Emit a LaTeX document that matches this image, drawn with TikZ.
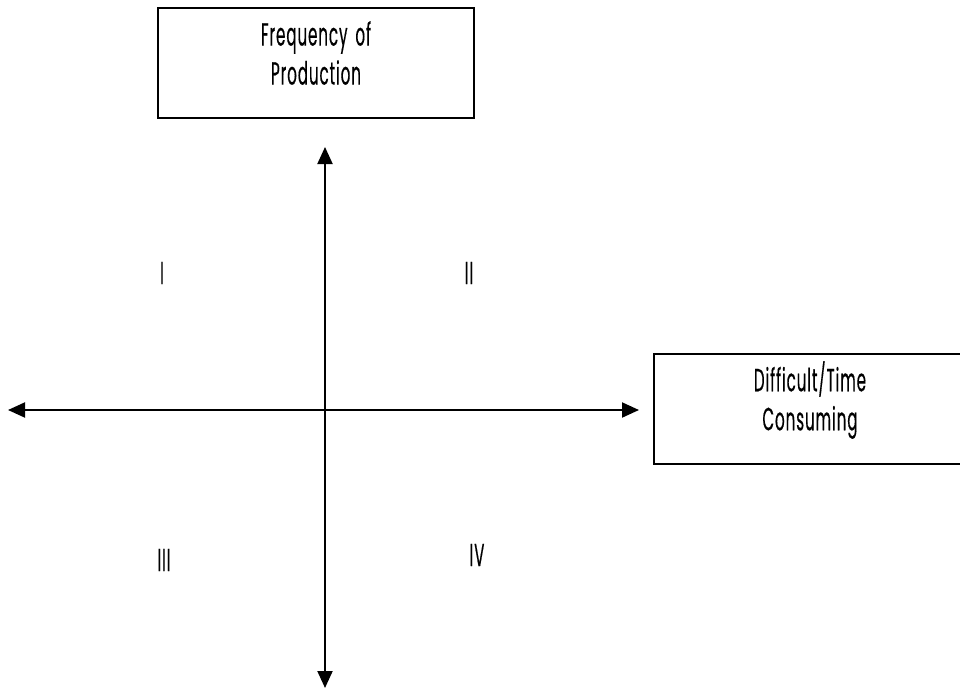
\documentclass[tikz,border=0pt]{standalone}
\usepackage{fontspec}
\setmainfont{Poppins}[FakeStretch=0.47,LetterSpace=3,FakeBold=0.35,WordSpace=1.6]
\usetikzlibrary{arrows.meta}
\begin{document}
\begin{tikzpicture}[x=1pt,y=-1pt,
  axis/.style={line width=2pt,{Triangle[length=17pt,width=15pt]}-{Triangle[length=17pt,width=15pt]}},
  labelbox/.style={draw,line width=2pt,anchor=north west,inner sep=0pt},
  lbl/.style={font=\fontsize{32}{39}\selectfont,align=center,inner sep=0pt},
]
\useasboundingbox (0,0) rectangle (960,690);
\clip (0,0) rectangle (960,690);
\node[labelbox,minimum width=316pt,minimum height=110pt] (fbox) at (157,7) {};
\node[lbl] (ftext) at (316,53) {Frequency of\\Production};
\node[labelbox,minimum width=325pt,minimum height=110pt] (dbox) at (653,353) {};
\node[lbl] (dtext) at (810,400) {Difficult/Time\\Consuming};
\coordinate (top) at (325,147);
\coordinate (bottom) at (325,688);
\coordinate (left) at (8,410);
\coordinate (right) at (639,410);
\draw[axis] (bottom) -- (top);
\draw[axis] (left) -- (right);
\node[lbl] (q1) at (162,273) {I};
\node[lbl] (q2) at (469,273) {II};
\node[lbl] (q3) at (164,560) {III};
\node[lbl] (q4) at (477,555) {IV};
\end{tikzpicture}
\end{document}
